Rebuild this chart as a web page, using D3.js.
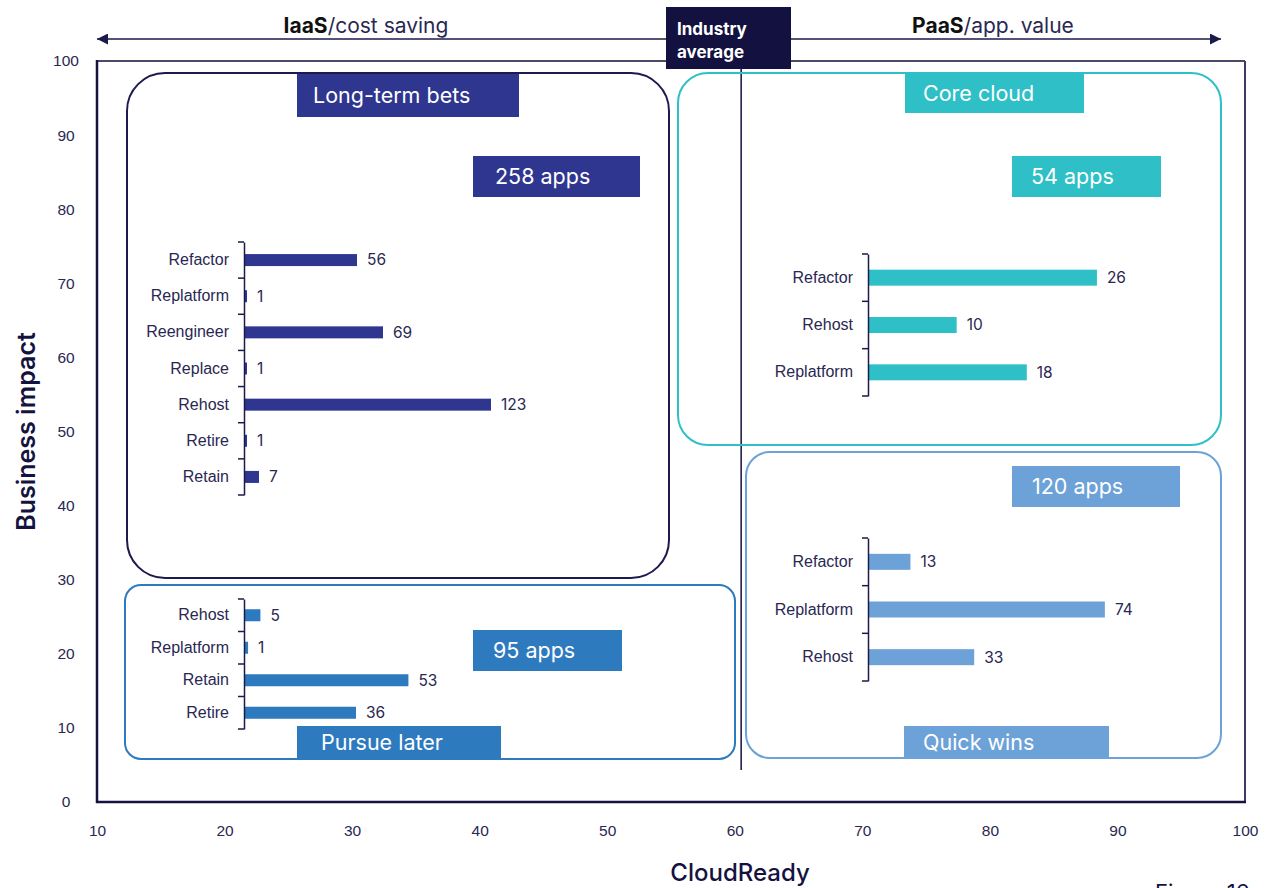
<!DOCTYPE html>
<html>
<head>
<meta charset="utf-8">
<script src="https://cdn.jsdelivr.net/npm/d3@7"></script>
<style>
  html, body { margin: 0; padding: 0; background: #fff; }
  svg { display: block; font-family: Inter, "Open Sans", sans-serif; }
</style>
</head>
<body>
<div id="chart"></div>
<script>
// quadrant chart: CloudReady vs Business impact
const xTicks = [10, 20, 30, 40, 50, 60, 70, 80, 90, 100];
const yTicks = [0, 10, 20, 30, 40, 50, 60, 70, 80, 90, 100];
const industryAverage = 60.5;

const quadrantNames = ['Long-term bets', 'Core cloud', 'Pursue later', 'Quick wins'];
const appCounts = [258, 54, 95, 120];

const longTermCats = ['Refactor', 'Replatform', 'Reengineer', 'Replace', 'Rehost', 'Retire', 'Retain'];
const longTermVals = [56, 1, 69, 1, 123, 1, 7];

const coreCats = ['Refactor', 'Rehost', 'Replatform'];
const coreVals = [26, 10, 18];

const pursueCats = ['Rehost', 'Replatform', 'Retain', 'Retire'];
const pursueVals = [5, 1, 53, 36];

const quickCats = ['Refactor', 'Replatform', 'Rehost'];
const quickVals = [13, 74, 33];

const W = 1267, H = 888;
const navy = '#1b1a4a';
const textCol = '#2a2852';

const svg = d3.select('#chart').append('svg')
  .attr('width', W)
  .attr('height', H);

const x = d3.scaleLinear().domain([10, 100]).range([97, 1245]);
const y = d3.scaleLinear().domain([0, 100]).range([802, 61]);

// X axis labels
const xAxis = svg.append('g')
  .attr('transform', `translate(0,802)`)
  .call(d3.axisBottom(x).tickValues(xTicks).tickSize(0).tickPadding(23));
xAxis.select('.domain').remove();
xAxis.selectAll('text')
  .attr('fill', textCol)
  .style('font-size', '15.5px');

// Y axis labels
const yAxis = svg.append('g')
  .attr('transform', `translate(97,0)`)
  .call(d3.axisLeft(y).tickValues(yTicks).tickSize(0));
yAxis.select('.domain').remove();
yAxis.selectAll('text')
  .attr('x', -31)
  .attr('fill', textCol)
  .style('text-anchor', 'middle')
  .style('font-size', '15.5px');

// Frame
svg.append('line').attr('x1', x(10)).attr('x2', x(100)).attr('y1', y(100)).attr('y2', y(100))
  .attr('stroke', '#4b4a6b').attr('stroke-width', 2);
svg.append('line').attr('x1', x(100)).attr('x2', x(100)).attr('y1', y(100)).attr('y2', y(0))
  .attr('stroke', '#3d3b63').attr('stroke-width', 2);
svg.append('line').attr('x1', x(10)).attr('x2', x(10)).attr('y1', y(100) - 1).attr('y2', y(0) + 1)
  .attr('stroke', '#14123f').attr('stroke-width', 2.5);
svg.append('line').attr('x1', x(10) - 1).attr('x2', x(100) + 1).attr('y1', y(0)).attr('y2', y(0))
  .attr('stroke', '#14123f').attr('stroke-width', 2.5);

// Axis titles
svg.append('text')
  .attr('transform', `translate(35,${(y(0) + y(100)) / 2}) rotate(-90)`)
  .attr('text-anchor', 'middle')
  .attr('fill', '#14133f')
  .style('font-size', '25px')
  .style('font-weight', 600)
  .text('Business impact');

svg.append('text')
  .attr('x', 740)
  .attr('y', 881)
  .attr('text-anchor', 'middle')
  .attr('fill', '#14133f')
  .style('font-size', '24px')
  .style('font-weight', 500)
  .text('CloudReady');

svg.append('text')
  .attr('x', 1155)
  .attr('y', 900)
  .attr('fill', '#14133f')
  .style('font-size', '22px')
  .text('Figure 16');

// Top arrow
const defs = svg.append('defs');
['start', 'end'].forEach(k => {
  defs.append('marker')
    .attr('id', 'arr-' + k)
    .attr('viewBox', '0 0 10 10')
    .attr('refX', k === 'end' ? 10 : 0)
    .attr('refY', 5)
    .attr('markerWidth', 13)
    .attr('markerHeight', 11)
    .attr('markerUnits', 'userSpaceOnUse')
    .attr('orient', 'auto')
    .append('path')
    .attr('d', k === 'end' ? 'M0,0 L10,5 L0,10 Z' : 'M10,0 L0,5 L10,10 Z')
    .attr('fill', navy);
});
svg.append('line')
  .attr('x1', 97).attr('x2', 1221)
  .attr('y1', 39).attr('y2', 39)
  .attr('stroke', navy).attr('stroke-width', 1.5)
  .attr('marker-start', 'url(#arr-start)')
  .attr('marker-end', 'url(#arr-end)');

function sideTitle(cx, bold, rest) {
  const t = svg.append('text')
    .attr('x', cx).attr('y', 33)
    .attr('text-anchor', 'middle')
    .style('font-size', '21px');
  t.append('tspan').attr('fill', '#111').style('font-weight', 700).text(bold);
  t.append('tspan').attr('fill', textCol).text(rest);
}
sideTitle(366, 'IaaS', '/cost saving');
sideTitle(993, 'PaaS', '/app. value');

// Industry average line + box
svg.append('line')
  .attr('x1', x(industryAverage)).attr('x2', x(industryAverage))
  .attr('y1', 66).attr('y2', 770)
  .attr('stroke', '#14123f').attr('stroke-width', 1.5);

svg.append('rect')
  .attr('x', 666).attr('y', 7).attr('width', 125).attr('height', 62)
  .attr('fill', '#12113f');
svg.append('text').attr('x', 677).attr('y', 35)
  .attr('fill', '#fff').style('font-size', '17px').style('font-weight', 700)
  .text('Industry');
svg.append('text').attr('x', 677).attr('y', 58)
  .attr('fill', '#fff').style('font-size', '17px').style('font-weight', 700)
  .text('average');

// panel layout (pixels)
const panels = [
  {
    name: quadrantNames[0], count: appCounts[0], color: '#2e3690', stroke: '#1d1a4f',
    frame: [127, 73, 669, 578, 38],
    title: [297, 74, 222, 43, 313], countBox: [473, 156, 167, 41, 495],
    cats: longTermCats, vals: longTermVals,
    axisX: 244, yRange: [242, 495], xMax: 125, xWidth: 250, barH: 12
  },
  {
    name: quadrantNames[1], count: appCounts[1], color: '#2ec0c6', stroke: '#2ec0c6',
    frame: [678, 73, 1221, 445, 30],
    title: [905, 73, 179, 40, 923], countBox: [1012, 156, 149, 41, 1031],
    cats: coreCats, vals: coreVals,
    axisX: 868, yRange: [254, 396], xMax: 30, xWidth: 263, barH: 16
  },
  {
    name: quadrantNames[2], count: appCounts[2], color: '#2e7abf', stroke: '#2e7abf',
    frame: [125, 585, 735, 759, 16],
    title: [297, 726, 204, 33, 321], countBox: [473, 630, 149, 41, 493],
    cats: pursueCats, vals: pursueVals,
    axisX: 244, yRange: [599, 729], xMax: 60, xWidth: 185, barH: 12
  },
  {
    name: quadrantNames[3], count: appCounts[3], color: '#6ca2d7', stroke: '#6ca2d7',
    frame: [746, 452, 1221, 758, 24],
    title: [904, 726, 205, 32, 923], countBox: [1012, 466, 168, 41, 1032],
    cats: quickCats, vals: quickVals,
    axisX: 868, yRange: [538, 681], xMax: 80, xWidth: 255, barH: 16
  }
];

panels.forEach(p => {
  const [fx0, fy0, fx1, fy1, r] = p.frame;
  svg.append('rect')
    .attr('x', fx0).attr('y', fy0)
    .attr('width', fx1 - fx0).attr('height', fy1 - fy0)
    .attr('rx', r).attr('ry', r)
    .attr('fill', 'none')
    .attr('stroke', p.stroke)
    .attr('stroke-width', 2);

  // title box
  svg.append('rect')
    .attr('x', p.title[0]).attr('y', p.title[1])
    .attr('width', p.title[2]).attr('height', p.title[3])
    .attr('fill', p.color);
  svg.append('text')
    .attr('x', p.title[4]).attr('y', p.title[1] + p.title[3] / 2)
    .attr('dy', '0.35em')
    .attr('fill', '#fff')
    .style('font-size', '21.5px')
    .text(p.name);

  // count box
  svg.append('rect')
    .attr('x', p.countBox[0]).attr('y', p.countBox[1])
    .attr('width', p.countBox[2]).attr('height', p.countBox[3])
    .attr('fill', p.color);
  svg.append('text')
    .attr('x', p.countBox[4]).attr('y', p.countBox[1] + p.countBox[3] / 2)
    .attr('dy', '0.35em')
    .attr('fill', '#fff')
    .style('font-size', '21.5px')
    .text(p.count + ' apps');

  // mini bar chart
  const by = d3.scaleBand().domain(p.cats).range(p.yRange);
  const bx = d3.scaleLinear().domain([0, p.xMax]).range([p.axisX, p.axisX + p.xWidth]);
  const data = p.cats.map((c, i) => ({ cat: c, val: p.vals[i] }));

  const g = svg.append('g');

  g.selectAll('.bar')
    .data(data)
    .enter().append('rect')
    .attr('class', 'bar')
    .attr('x', bx(0) + 1)
    .attr('y', d => by(d.cat) + by.bandwidth() / 2 - p.barH / 2)
    .attr('width', d => Math.max(2, bx(d.val) - bx(0)))
    .attr('height', p.barH)
    .attr('fill', p.color);

  g.selectAll('.val')
    .data(data)
    .enter().append('text')
    .attr('x', d => Math.max(bx(0) + 2, bx(d.val)) + 11)
    .attr('y', d => by(d.cat) + by.bandwidth() / 2)
    .attr('dy', '0.35em')
    .attr('fill', textCol)
    .style('font-size', '15.5px')
    .text(d => d.val);

  const ax = g.append('g')
    .attr('transform', `translate(${p.axisX},0)`)
    .call(d3.axisLeft(by).tickSize(0).tickPadding(15));
  ax.select('.domain').attr('stroke', navy).attr('stroke-width', 1.5);
  ax.selectAll('text').attr('fill', textCol).style('font-size', '16px');

  // ticks on band boundaries
  const bounds = p.cats.map(c => by(c)).concat([p.yRange[1]]);
  g.selectAll('.btick')
    .data(bounds)
    .enter().append('line')
    .attr('x1', p.axisX - 6).attr('x2', p.axisX)
    .attr('y1', d => d).attr('y2', d => d)
    .attr('stroke', navy).attr('stroke-width', 1.5);
});
</script>
</body>
</html>
